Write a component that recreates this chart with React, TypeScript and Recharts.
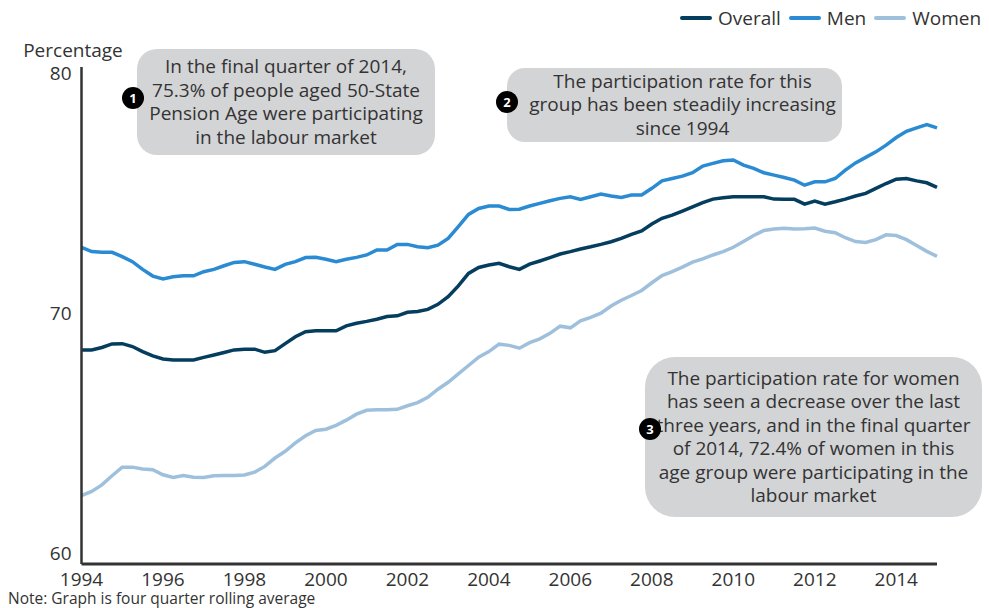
import React from 'react'
import { LineChart, Line, XAxis, YAxis, Label } from 'recharts'

const FONT = "'Open Sans', 'Noto Sans', sans-serif"
const TEXT = '#333333'
const FS = 19

// quarterly points, four quarter rolling average
const years = [1994, 1995, 1996, 1997, 1998, 1999, 2000, 2001, 2002, 2003, 2004, 2005, 2006, 2007, 2008, 2009, 2010, 2011, 2012, 2013, 2014, 2015]
const quarters = years.flatMap((y) => ['Q1', 'Q2', 'Q3', 'Q4'].map((q) => `${q} ${y}`)).slice(0, 85)

const tickYears = ['1994', '1996', '1998', '2000', '2002', '2004', '2006', '2008', '2010', '2012', '2014']
const yTicks = [60, 70, 80]

const overall = [
  68.48, 68.48, 68.58, 68.73, 68.74, 68.62, 68.41, 68.23, 68.1, 68.06,
  68.06, 68.06, 68.17, 68.27, 68.37, 68.48, 68.51, 68.51, 68.38, 68.45,
  68.74, 69.03, 69.24, 69.28, 69.28, 69.28, 69.48, 69.59, 69.67, 69.76,
  69.87, 69.9, 70.05, 70.08, 70.17, 70.38, 70.7, 71.15, 71.67, 71.92,
  72.02, 72.09, 71.95, 71.84, 72.06, 72.19, 72.33, 72.48, 72.58, 72.69,
  72.78, 72.88, 72.99, 73.13, 73.3, 73.44, 73.73, 73.97, 74.1, 74.27,
  74.45, 74.62, 74.77, 74.83, 74.87, 74.87, 74.87, 74.87, 74.77, 74.76,
  74.76, 74.56, 74.69, 74.56, 74.66, 74.77, 74.9, 75.01, 75.22, 75.42,
  75.6, 75.63, 75.53, 75.45, 75.26,
]

const men = [
  72.76, 72.58, 72.55, 72.55, 72.37, 72.16, 71.84, 71.56, 71.44, 71.53,
  71.57, 71.57, 71.74, 71.84, 71.99, 72.13, 72.16, 72.05, 71.94, 71.84,
  72.05, 72.16, 72.33, 72.34, 72.26, 72.16, 72.26, 72.34, 72.44, 72.65,
  72.65, 72.88, 72.88, 72.78, 72.74, 72.85, 73.13, 73.62, 74.13, 74.38,
  74.48, 74.48, 74.34, 74.35, 74.48, 74.59, 74.7, 74.8, 74.87, 74.76,
  74.87, 74.98, 74.9, 74.84, 74.94, 74.94, 75.22, 75.53, 75.63, 75.73,
  75.87, 76.15, 76.26, 76.37, 76.4, 76.19, 76.05, 75.87, 75.77, 75.67,
  75.56, 75.35, 75.49, 75.49, 75.63, 75.98, 76.28, 76.51, 76.74, 77.02,
  77.34, 77.6, 77.74, 77.88, 77.74,
]

const women = [
  62.4, 62.58, 62.85, 63.23, 63.59, 63.59, 63.51, 63.48, 63.27, 63.16,
  63.24, 63.17, 63.16, 63.23, 63.24, 63.24, 63.26, 63.38, 63.62, 63.97,
  64.25, 64.6, 64.9, 65.12, 65.17, 65.33, 65.55, 65.8, 65.96, 65.98,
  65.98, 66.0, 66.15, 66.28, 66.5, 66.84, 67.13, 67.48, 67.83, 68.18,
  68.41, 68.72, 68.67, 68.55, 68.78, 68.94, 69.17, 69.47, 69.4, 69.69,
  69.84, 70.01, 70.31, 70.55, 70.75, 70.96, 71.28, 71.58, 71.75, 71.93,
  72.14, 72.28, 72.44, 72.58, 72.76, 73.0, 73.25, 73.46, 73.52, 73.55,
  73.52, 73.53, 73.56, 73.43, 73.37, 73.16, 73.0, 72.96, 73.08, 73.28,
  73.25, 73.08, 72.83, 72.59, 72.38,
]

const series = [
  { key: 'overall', name: 'Overall', color: '#053d5e' },
  { key: 'men', name: 'Men', color: '#2a8bd2' },
  { key: 'women', name: 'Women', color: '#9fc0dc' },
]

const data = quarters.map((quarter, i) => ({
  quarter,
  overall: overall[i],
  men: men[i],
  women: women[i],
}))

const xTicks = tickYears.map((y) => `Q1 ${y}`)

function LegendBox() {
  return (
    <div
      style={{
        position: 'absolute', left: 680, top: 5, display: 'flex', alignItems: 'center',
        fontFamily: FONT, fontSize: FS, color: TEXT, whiteSpace: 'nowrap',
      }}
    >
      {series.map((s) => (
        <div key={s.key} style={{ display: 'flex', alignItems: 'center', marginRight: 8 }}>
          <span style={{ width: 32, height: 4, borderRadius: 2, background: s.color, marginRight: 6, display: 'inline-block' }} />
          <span>{s.name}</span>
        </div>
      ))}
    </div>
  )
}

type NoteProps = { left: number; top: number; width: number; height: number; radius: number; padLeft?: number; children: React.ReactNode }

function Note({ left, top, width, height, radius, padLeft = 0, children }: NoteProps) {
  return (
    <div
      style={{
        position: 'absolute', left, top, width, height, boxSizing: 'border-box', paddingLeft: padLeft,
        background: '#d3d4d6', borderRadius: radius, display: 'flex', alignItems: 'center',
        justifyContent: 'center', textAlign: 'center', fontFamily: FONT, fontSize: FS,
        lineHeight: '23.5px', color: TEXT, whiteSpace: 'nowrap',
      }}
    >
      <div>{children}</div>
    </div>
  )
}

function Badge({ cx, cy, n }: { cx: number; cy: number; n: number }) {
  const r = 11
  return (
    <div
      style={{
        position: 'absolute', left: cx - r, top: cy - r, width: r * 2, height: r * 2, borderRadius: r,
        background: '#000', color: '#fff', fontFamily: FONT, fontWeight: 700, fontSize: 13,
        display: 'flex', alignItems: 'center', justifyContent: 'center',
      }}
    >
      {n}
    </div>
  )
}

export default function App() {
  return (
    <div style={{ position: 'absolute', left: 0, top: 0, width: 989, height: 608, background: '#fff', overflow: 'hidden' }}>
      <LineChart width={989} height={608} data={data} margin={{ top: 67, right: 52, left: 0, bottom: 0 }}>
        <XAxis
          dataKey="quarter"
          ticks={xTicks}
          interval={0}
          tickFormatter={(q: string) => q.slice(3)}
          height={44}
          tickSize={0}
          tickMargin={9}
          tickLine={false}
          axisLine={{ stroke: TEXT, strokeWidth: 3 }}
          tick={{ fontSize: FS, fill: TEXT, fontFamily: FONT }}
        />
        <YAxis
          type="number"
          domain={[59.55, 80.28]}
          ticks={yTicks}
          width={81.5}
          tickSize={0}
          tickMargin={10}
          tickLine={false}
          axisLine={{ stroke: TEXT, strokeWidth: 2.5 }}
          tick={{ fontSize: FS, fill: TEXT, fontFamily: FONT }}
        >
          <Label
            content={() => (
              <text x={73} y={57} textAnchor="middle" fontSize={FS} fill={TEXT} fontFamily={FONT}>
                Percentage
              </text>
            )}
          />
        </YAxis>
        {series.map((s) => (
          <Line
            key={s.key}
            type="linear"
            dataKey={s.key}
            name={s.name}
            stroke={s.color}
            strokeWidth={3.5}
            dot={false}
            isAnimationActive={false}
          />
        ))}
      </LineChart>

      <LegendBox />

      <Note left={137} top={49} width={298} height={106} radius={20}>
        In the final quarter of 2014,<br />
        75.3% of people aged 50-State<br />
        Pension Age were participating<br />
        in the labour market
      </Note>
      <Badge cx={133} cy={98} n={1} />

      <Note left={507} top={68} width={335} height={74} radius={18} padLeft={16}>
        The participation rate for this<br />
        group has been steadily increasing<br />
        since 1994
      </Note>
      <Badge cx={507} cy={102} n={2} />

      <Note left={645} top={357} width={337} height={160} radius={30}>
        The participation rate for women<br />
        has seen a decrease over the last<br />
        three years, and in the final quarter<br />
        of 2014, 72.4% of women in this<br />
        age group were participating in the<br />
        labour market
      </Note>
      <Badge cx={650} cy={429} n={3} />

      <div style={{ position: 'absolute', left: 8, top: 589, fontFamily: FONT, fontSize: 15.5, lineHeight: '18px', color: TEXT, whiteSpace: 'nowrap' }}>
        Note: Graph is four quarter rolling average
      </div>
    </div>
  )
}
